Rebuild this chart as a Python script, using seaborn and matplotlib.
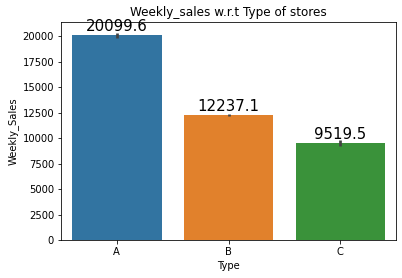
import matplotlib
matplotlib.use("Agg")
import matplotlib.pyplot as plt
import seaborn as sns
import pandas as pd

types = ["A", "B", "C"]
weekly_sales = [20099.6, 12237.1, 9519.5]
sales_err = [250, 100, 300]

df = pd.DataFrame({"Type": types, "Weekly_Sales": weekly_sales})

fig = plt.figure(figsize=(402 / 72, 278 / 72), dpi=72)
ax = fig.add_axes([61 / 402, 1 - 240 / 278, (396 - 61) / 402, (240 - 22) / 278])
sns.barplot(data=df, x="Type", y="Weekly_Sales", hue="Type", legend=False,
            errorbar=None, ax=ax)
ax.errorbar(range(len(types)), weekly_sales, yerr=sales_err, fmt="none",
            ecolor=".26", elinewidth=2.7, capsize=0)
ax.set_xlim(-0.5, len(types) - 0.5)
ax.set_ylim(0, 21400)
ax.set_yticks(range(0, 20001, 2500))
for p in ax.patches:
    ax.annotate(format(p.get_height(), ".1f"),
                (p.get_x() + p.get_width() / 2.0, p.get_height()),
                ha="center", va="center", xytext=(0, 9),
                textcoords="offset points", size=15)
ax.set_title("Weekly_sales w.r.t Type of stores")
ax.set_xlabel("Type")
ax.set_ylabel("Weekly_Sales")
fig.savefig("out.png", dpi=72)
